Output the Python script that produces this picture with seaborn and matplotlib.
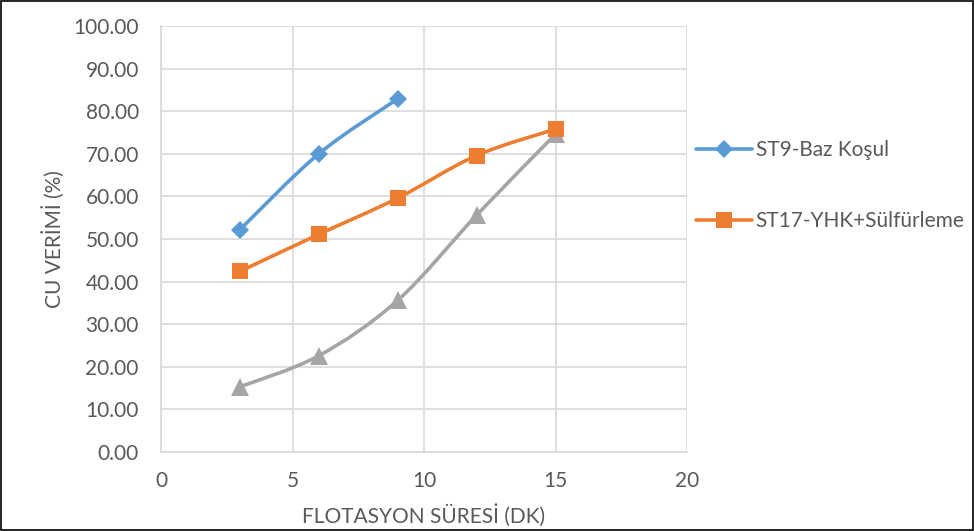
import matplotlib
matplotlib.use("Agg")
import matplotlib.pyplot as plt
import seaborn as sns
import numpy as np
import pandas as pd
from matplotlib.path import Path
from matplotlib.patches import PathPatch, Rectangle
from matplotlib.lines import Line2D

# ---- data ----
x_blue = [3, 6, 9]
y_blue = [52.2, 70.0, 82.9]
x_orange = [3, 6, 9, 12, 15]
y_orange = [42.4, 51.1, 59.6, 69.6, 75.8]
x_gray = [3, 6, 9, 12, 15]
y_gray = [15.3, 22.6, 35.6, 55.6, 74.6]
label_blue = "ST9-Baz Koşul"
label_orange = "ST17-YHK+Sülfürleme"
x_ticks = [0, 5, 10, 15, 20]
y_ticks = [0, 10, 20, 30, 40, 50, 60, 70, 80, 90, 100]
x_label = "FLOTASYON SÜRESİ (DK)"
y_label = "CU VERİMİ (%)"

C_BLUE = "#5B9BD5"
C_ORANGE = "#ED7D31"
C_GRAY = "#A5A5A5"
TXT = "#595959"
FS = 15

sns.set_theme(style="white")
plt.rcParams['font.family'] = ['Lato', 'DejaVu Sans']

fig = plt.figure(figsize=(9.75, 5.31), dpi=100)
ax = fig.add_axes([161/975, 1-452/531, (687-161)/975, (452-26)/531])


def smooth_path(xs, ys):
    pts = np.column_stack([xs, ys]).astype(float)
    n = len(pts)
    verts = [pts[0]]
    codes = [Path.MOVETO]
    for i in range(n - 1):
        p0 = pts[i - 1] if i > 0 else pts[i]
        p1 = pts[i]
        p2 = pts[i + 1]
        p3 = pts[i + 2] if i + 2 < n else pts[i + 1]
        c1 = p1 + (p2 - p0) / 6.0
        c2 = p2 - (p3 - p1) / 6.0
        verts += [c1, c2, p2]
        codes += [Path.CURVE4] * 3
    return Path(verts, codes)


series = [
    (x_gray, y_gray, C_GRAY, "^", 13),
    (x_orange, y_orange, C_ORANGE, "s", 11),
    (x_blue, y_blue, C_BLUE, "D", 9),
]
for xs, ys, col, mk, ms in series:
    ax.add_patch(PathPatch(smooth_path(xs, ys), facecolor="none",
                           edgecolor=col, lw=2.6, zorder=3,
                           capstyle="round", joinstyle="round"))
    df = pd.DataFrame({"x": xs, "y": ys})
    sns.lineplot(data=df, x="x", y="y", ax=ax, color=col, marker=mk,
                 markersize=ms, markeredgewidth=0, linestyle="none",
                 zorder=4)

ax.set_xlim(0, 20)
ax.set_ylim(0, 100)
ax.set_xticks(x_ticks)
ax.set_yticks(y_ticks)
ax.set_xticklabels([str(v) for v in x_ticks])
ax.set_yticklabels([f"{v:.2f}" for v in y_ticks])
ax.tick_params(axis="both", colors=TXT, labelsize=FS, length=0)
ax.tick_params(axis="x", pad=14)
ax.tick_params(axis="y", pad=16)
ax.grid(True, color="#D9D9D9", lw=1.2)
for side, sp in ax.spines.items():
    if side in ("left", "bottom"):
        sp.set_color("#D9D9D9")
        sp.set_linewidth(1.2)
    else:
        sp.set_visible(False)
ax.set_xlabel(x_label, color=TXT, fontsize=FS, labelpad=9)
ax.set_ylabel(y_label, color=TXT, fontsize=FS, labelpad=6)

handles = [
    Line2D([0], [0], color=C_BLUE, lw=2.6, marker="D", markersize=9, markeredgewidth=0),
    Line2D([0], [0], color=C_ORANGE, lw=2.6, marker="s", markersize=11, markeredgewidth=0),
]
leg = fig.legend(handles, [label_blue, label_orange], loc="upper left",
                 bbox_to_anchor=(688/975, 1-132/531), frameon=False,
                 fontsize=FS, labelspacing=2.45, handlelength=2.65,
                 handletextpad=0.2, borderaxespad=0)
for t in leg.get_texts():
    t.set_color(TXT)

fig.patches.append(Rectangle((0.001, 0.001), 0.997, 0.997, transform=fig.transFigure,
                             fill=False, edgecolor="black", lw=1.2))

fig.savefig("out.png", dpi=100)
